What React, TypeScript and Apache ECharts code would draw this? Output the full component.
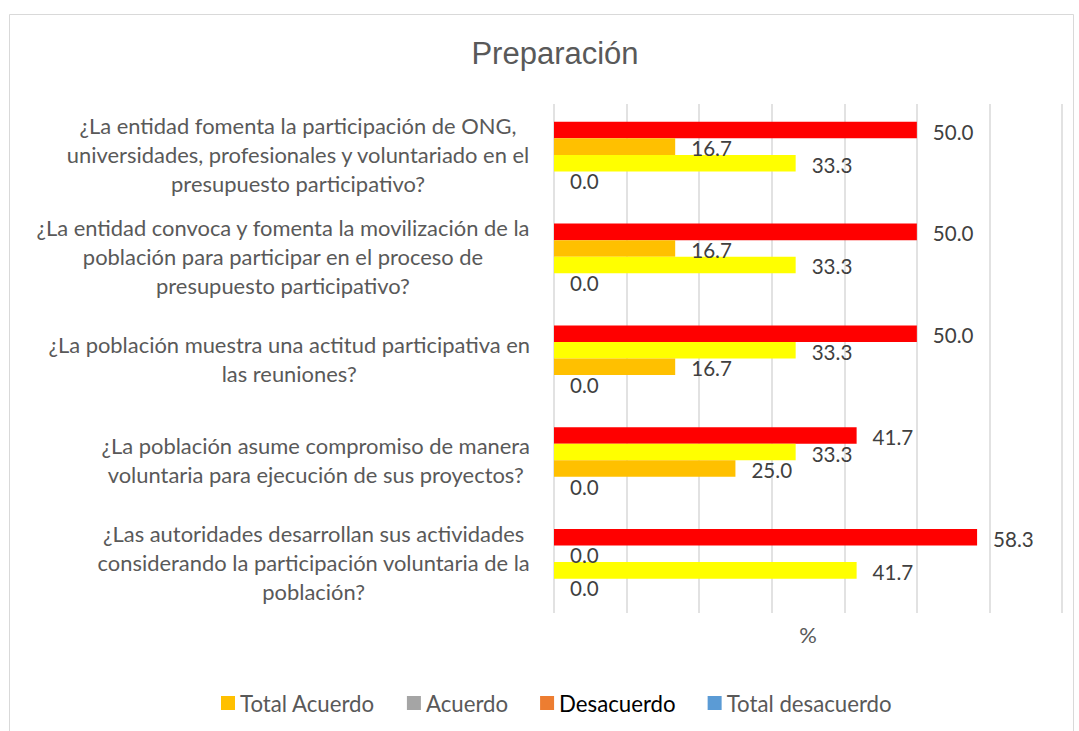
import React, { useEffect, useRef } from 'react';
import * as echarts from 'echarts';

const chartTitle = 'Preparación';
const axisName = '%';
const categories = [
  '¿La entidad fomenta la participación de ONG,\nuniversidades, profesionales y voluntariado en el\npresupuesto participativo?',
  '¿La entidad convoca y fomenta la movilización de la\npoblación para participar en el proceso de\npresupuesto participativo?',
  '¿La población muestra una actitud participativa en\nlas reuniones?',
  '¿La población asume compromiso de manera\nvoluntaria para ejecución de sus proyectos?',
  '¿Las autoridades desarrollan sus actividades\nconsiderando la participación voluntaria de la\npoblación?',
];
const seriesNames = ['Total Acuerdo', 'Acuerdo', 'Desacuerdo', 'Total desacuerdo'];
const totalAcuerdo = [50.0, 50.0, 50.0, 41.7, 58.3];
const acuerdo = [16.7, 16.7, 33.3, 33.3, 0.0];
const desacuerdo = [33.3, 33.3, 16.7, 25.0, 41.7];
const totalDesacuerdo = [0.0, 0.0, 0.0, 0.0, 0.0];
const legendColors = ['#FFC000', '#A5A5A5', '#ED7D31', '#5B9BD5'];
const legendTextColors = ['#595959', '#595959', '#000000', '#595959'];
const red = '#FF0000';
const gold = '#FFC000';
const yellow = '#FFFF00';
const barColors = [
  [red, red, red, red, red],
  [gold, gold, yellow, yellow, yellow],
  [yellow, yellow, gold, gold, yellow],
  [yellow, yellow, yellow, yellow, yellow],
];
const xMin = 0;
const xMax = 70;
const xInterval = 10;

const FONT = 'Lato';

function fitSize(text: string, family: string, target: number): number {
  const ctx = document.createElement('canvas').getContext('2d');
  if (!ctx) return 22;
  ctx.font = `100px ${family}`;
  const w = ctx.measureText(text).width;
  return w > 0 ? (100 * target) / w : 22;
}

export default function App() {
  const ref = useRef<HTMLDivElement>(null);

  useEffect(() => {
    if (!ref.current) return;
    const chart = echarts.init(ref.current, undefined, { renderer: 'svg' });

    const fsAxis = fitSize('¿La entidad fomenta la participación de ONG,', FONT, 437);
    const fsData = fitSize('50.0', FONT, 40.7);
    const fsLegend = fitSize('Total Acuerdo', FONT, 135);

    const values = [totalAcuerdo, acuerdo, desacuerdo, totalDesacuerdo];

    const option: any = {
      animation: false,
      backgroundColor: '#FFFFFF',
      title: {
        text: chartTitle,
        left: 550,
        textAlign: 'center',
        top: 33,
        textStyle: {
          fontFamily: 'Liberation Sans',
          fontSize: 31,
          fontWeight: 'normal',
          color: '#595959',
        },
      },
      legend: {
        data: seriesNames.map((n, i) => ({ name: n, textStyle: { color: legendTextColors[i] } })),
        left: 216,
        top: 687,
        icon: 'rect',
        itemWidth: 14,
        itemHeight: 14,
        itemGap: 32,
        selectedMode: false,
        textStyle: { fontFamily: FONT, fontSize: fsLegend, color: '#595959' },
      },
      grid: { left: 554, right: 17, top: 104, bottom: 118 },
      xAxis: {
        type: 'value',
        min: xMin,
        max: xMax,
        interval: xInterval,
        name: axisName,
        nameLocation: 'middle',
        nameGap: 10,
        nameTextStyle: { fontFamily: FONT, fontSize: fsAxis, color: '#595959' },
        axisLabel: { show: false },
        axisTick: { show: false },
        axisLine: { show: false },
        splitLine: { show: true, lineStyle: { color: '#D9D9D9', width: 1.5 } },
      },
      yAxis: {
        type: 'category',
        inverse: true,
        data: categories,
        axisLine: { show: false },
        axisTick: { show: false },
        splitLine: { show: false },
        axisLabel: {
          margin: 24,
          align: 'right',
          fontFamily: FONT,
          fontSize: fsAxis,
          color: '#595959',
          lineHeight: 29,
          formatter: (v: string) => v.split('\n').map((l) => `{c|${l}}`).join('\n'),
          rich: {
            c: {
              align: 'center',
              fontFamily: FONT,
              fontSize: fsAxis,
              color: '#595959',
              lineHeight: 29,
            },
          },
        },
      },
      series: values.map((vals, i) => ({
        name: seriesNames[i],
        type: 'bar',
        barGap: '0%',
        barCategoryGap: '35%',
        itemStyle: { color: legendColors[i] },
        data: vals.map((v, j) => ({ value: v, itemStyle: { color: barColors[i][j] } })),
        label: {
          show: true,
          position: 'right',
          distance: 16,
          offset: [0, 1.5],
          formatter: (p: any) => Number(p.value).toFixed(1),
          fontFamily: FONT,
          fontSize: fsData,
          color: '#404040',
        },
      })),
      graphic: [
        {
          type: 'rect',
          shape: { x: 9.5, y: 14.5, width: 1064, height: 740 },
          style: { fill: 'none', stroke: '#D9D9D9', lineWidth: 1 },
          silent: true,
          z: -10,
        },
      ],
    };

    chart.setOption(option);
    return () => chart.dispose();
  }, []);

  return (
    <div
      ref={ref}
      style={{ position: 'absolute', left: 0, top: 0, width: 1079, height: 731 }}
    />
  );
}
